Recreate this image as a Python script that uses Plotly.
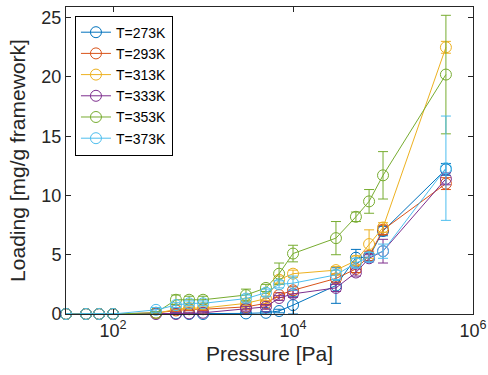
import plotly.graph_objects as go

pressure = [30, 50, 70, 100, 300, 500, 700, 1000, 3000, 5000, 7000, 10000,
            30000, 50000, 70000, 100000, 500000]

names = ["T=273K", "T=293K", "T=313K", "T=333K", "T=353K", "T=373K"]
colors = ["#0072BD", "#D95319", "#EDB120", "#7E2F8E", "#77AC30", "#4DBEEE"]

load_273 = [0, 0, 0, 0, 0.05, 0.05, 0.0, 0.0, 0.05, 0.1, 0.25, 0.75, 2.4, 4.75, 4.8, 7.0, 12.2]
load_293 = [0, 0, 0, 0, 0.1, 0.3, 0.4, 0.4, 0.6, 0.9, 1.6, 2.0, 3.0, 3.8, 4.9, 7.1, 11.0]
load_313 = [0, 0, 0, 0, 0.05, 0.4, 0.5, 0.5, 0.9, 1.3, 2.9, 3.4, 3.7, 4.5, 5.9, 7.3, 22.5]
load_333 = [0, 0, 0, 0, 0.0, 0.0, 0.05, 0.1, 0.45, 0.6, 1.35, 1.7, 2.2, 3.5, 4.7, 5.3, 11.4]
load_353 = [0, 0, 0, 0, 0.1, 1.2, 1.2, 1.2, 1.6, 2.2, 3.4, 5.1, 6.4, 8.2, 9.5, 11.7, 20.2]
load_373 = [0, 0, 0, 0, 0.35, 0.75, 0.9, 0.9, 1.3, 1.8, 2.5, 2.6, 3.3, 4.3, 4.8, 5.3, 12.3]

err_273 = [0, 0, 0, 0, 0.05, 0.05, 0.05, 0.05, 0.1, 0.1, 0.15, 0.75, 1.5, 0.7, 0.3, 0.4, 0.5]
err_293 = [0, 0, 0, 0, 0.1, 0.1, 0.1, 0.1, 0.2, 0.2, 0.2, 0.3, 0.3, 0.3, 0.4, 0.4, 0.5]
err_313 = [0, 0, 0, 0, 0.1, 0.1, 0.1, 0.1, 0.2, 0.2, 0.3, 0.3, 0.3, 0.4, 1.2, 0.4, 0.5]
err_333 = [0, 0, 0, 0, 0.1, 0.1, 0.1, 0.1, 0.2, 0.2, 0.2, 0.3, 0.3, 0.3, 0.3, 1.0, 0.5]
err_353 = [0, 0, 0, 0, 0.1, 0.4, 0.3, 0.3, 0.5, 0.3, 0.9, 0.7, 1.4, 0.4, 1.0, 2.0, 5.0]
err_373 = [0, 0, 0, 0, 0.2, 0.2, 0.2, 0.2, 0.3, 0.3, 0.3, 0.6, 0.4, 0.4, 0.4, 0.6, 4.4]

loads = [load_273, load_293, load_313, load_333, load_353, load_373]
errs = [err_273, err_293, err_313, err_333, err_353, err_373]

x_tickvals = [1e2, 1e4, 1e6]
x_ticktext = ["10<sup>2</sup>", "10<sup>4</sup>", "10<sup>6</sup>"]
y_tickvals = [0, 5, 10, 15, 20, 25]

fig = go.Figure()
for name, col, y, e in zip(names, colors, loads, errs):
    fig.add_trace(go.Scatter(
        x=pressure, y=y, name=name, mode="lines+markers",
        line=dict(color=col, width=1),
        marker=dict(symbol="circle-open", size=11, color=col, line=dict(width=1, color=col)),
        error_y=dict(type="data", array=e, visible=True, color=col, thickness=1, width=5),
        cliponaxis=False,
    ))

axis_col = "#262626"
fig.update_layout(
    width=488, height=375,
    margin=dict(l=66, r=15, t=7, b=61),
    paper_bgcolor="white", plot_bgcolor="white",
    font=dict(family="Liberation Sans, Arial, sans-serif", size=18, color=axis_col),
    showlegend=True,
    legend=dict(x=0.022, y=0.972, xanchor="left", yanchor="top",
                bordercolor="black", borderwidth=1, bgcolor="white",
                font=dict(size=14, color="black"), tracegroupgap=0,
                itemwidth=30),
    xaxis=dict(type="log", range=[1.477, 6], tickvals=x_tickvals, ticktext=x_ticktext,
               ticks="inside", ticklen=5, showline=True, mirror="ticks",
               linecolor=axis_col, tickcolor=axis_col, showgrid=False, zeroline=False,
               automargin=False,
               title=dict(text="Pressure [Pa]", font=dict(size=21), standoff=6),
               tickfont=dict(size=18)),
    yaxis=dict(range=[0, 25.9], tickvals=y_tickvals,
               ticks="inside", ticklen=5, showline=True, mirror="ticks",
               linecolor=axis_col, tickcolor=axis_col, showgrid=False, zeroline=False,
               automargin=False,
               title=dict(text="Loading [mg/g framework]", font=dict(size=21), standoff=10),
               tickfont=dict(size=18)),
)

fig.write_html("out.html", config={"displayModeBar": False},
               post_script="document.body.style.margin='0';")
